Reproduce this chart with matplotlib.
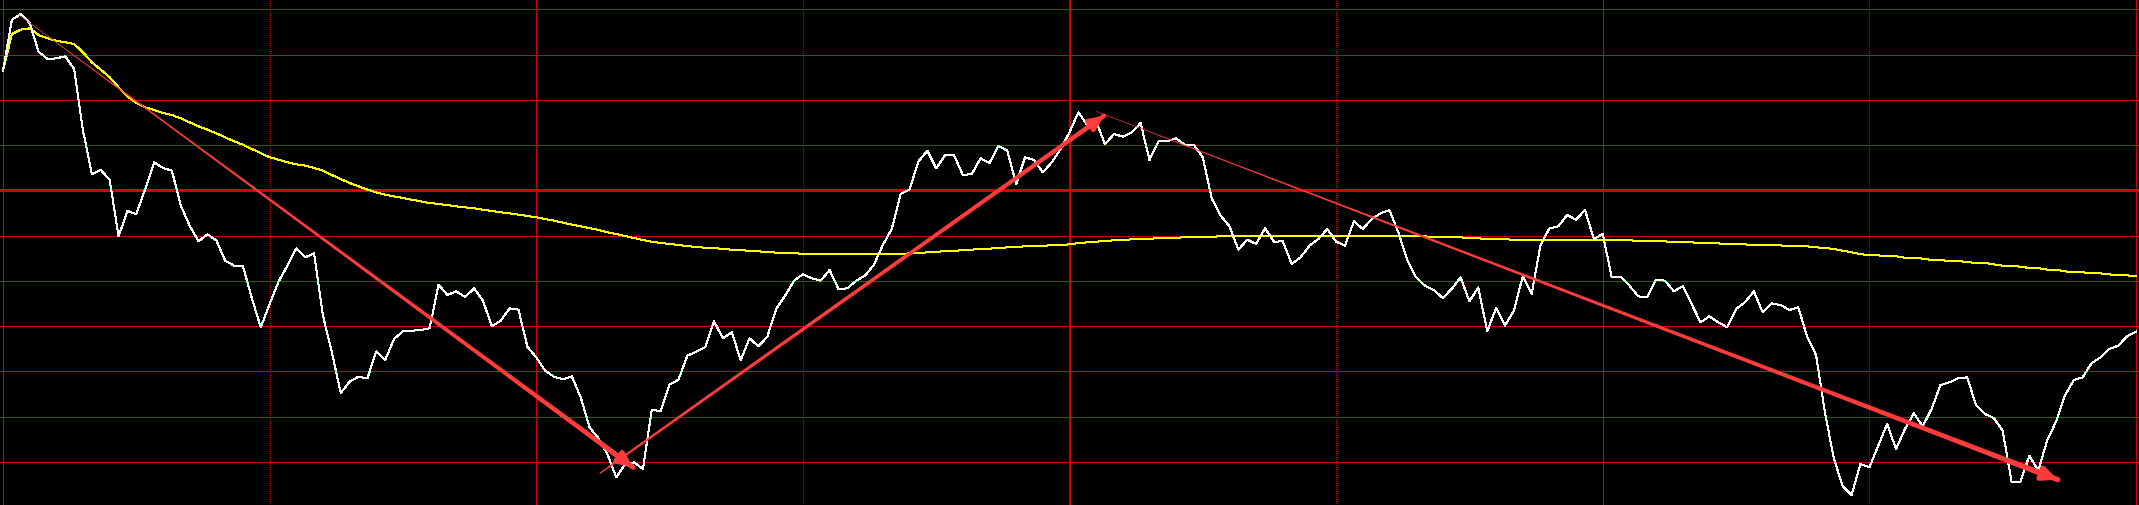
import numpy as np
import matplotlib
matplotlib.use('Agg')
import matplotlib.pyplot as plt
from matplotlib.collections import LineCollection

# intraday minute data, % change vs previous close
price = [3.59, 5.12, 5.29, 5.02, 4.16, 3.94, 3.96, 4.02, 3.64, 1.79,
         0.49, 0.61, 0.31, -1.38, -0.62, -0.71, 0.04, 0.84, 0.67, 0.59,
         -0.46, -1.06, -1.53, -1.32, -1.50, -2.11, -2.26, -2.28, -3.24, -4.11,
         -3.41, -2.74, -2.26, -1.74, -2.01, -1.89, -3.76, -4.86, -6.08, -5.74,
         -5.59, -5.64, -4.83, -5.09, -4.46, -4.23, -4.21, -4.19, -4.14, -2.83,
         -3.14, -3.03, -3.20, -2.94, -3.31, -4.08, -3.91, -3.54, -3.58, -4.69,
         -5.01, -5.41, -5.59, -5.67, -5.58, -6.21, -7.11, -7.44, -7.91, -8.61,
         -8.21, -8.16, -8.36, -6.58, -6.63, -5.83, -5.68, -4.96, -4.84, -4.71,
         -3.93, -4.44, -4.26, -5.09, -4.44, -4.68, -4.39, -3.56, -3.16, -2.71,
         -2.52, -2.64, -2.71, -2.39, -2.96, -2.94, -2.71, -2.56, -2.23, -1.64,
         -1.16, -0.11, 0.02, 0.87, 1.19, 0.66, 1.06, 1.06, 0.46, 0.49,
         0.96, 0.82, 1.33, 1.19, 0.19, 0.99, 0.91, 0.54, 0.84, 1.24,
         1.74, 2.34, 1.96, 2.07, 1.38, 1.69, 1.61, 1.74, 2.02, 0.91,
         1.47, 1.47, 1.56, 1.36, 1.36, 0.99, -0.24, -0.76, -1.08, -1.78,
         -1.48, -1.61, -1.14, -1.54, -1.53, -2.21, -2.01, -1.66, -1.46, -1.16,
         -1.54, -1.66, -0.93, -1.16, -0.86, -0.69, -0.59, -1.26, -2.08, -2.61,
         -2.86, -2.99, -3.23, -2.96, -2.61, -3.33, -2.91, -4.23, -3.53, -4.06,
         -3.61, -2.58, -3.11, -1.64, -1.14, -1.08, -0.74, -0.88, -0.59, -1.46,
         -1.31, -2.59, -2.59, -2.86, -3.18, -3.21, -2.68, -2.71, -3.03, -2.88,
         -3.41, -3.96, -3.78, -3.96, -4.11, -3.56, -3.36, -3.03, -3.66, -3.39,
         -3.44, -3.59, -3.51, -4.39, -4.94, -6.66, -8.04, -8.88, -9.14, -8.21,
         -8.31, -7.66, -7.01, -7.76, -7.16, -6.69, -7.08, -6.56, -5.84, -5.76,
         -5.64, -5.61, -6.44, -6.71, -6.83, -7.21, -8.74, -8.74, -7.96, -8.41,
         -7.51, -6.94, -6.16, -5.69, -5.61, -5.19, -5.01, -4.76, -4.66, -4.38, -4.24]

avg_price = [3.59, 4.69, 4.82, 4.86, 4.66, 4.56, 4.49, 4.44, 4.39, 4.14,
             3.84, 3.62, 3.39, 3.09, 2.82, 2.62, 2.49, 2.41, 2.32, 2.26,
             2.16, 2.04, 1.92, 1.82, 1.71, 1.59, 1.47, 1.37, 1.24, 1.12,
             0.99, 0.92, 0.84, 0.78, 0.74, 0.67, 0.59, 0.46, 0.34, 0.22,
             0.12, 0.02, -0.06, -0.13, -0.18, -0.23, -0.28, -0.33, -0.38, -0.41,
             -0.44, -0.48, -0.51, -0.54, -0.58, -0.62, -0.66, -0.69, -0.73, -0.77,
             -0.81, -0.86, -0.91, -0.97, -1.03, -1.08, -1.13, -1.19, -1.26, -1.31,
             -1.37, -1.43, -1.49, -1.54, -1.58, -1.61, -1.64, -1.67, -1.70, -1.72,
             -1.73, -1.76, -1.78, -1.80, -1.81, -1.83, -1.85, -1.87, -1.89, -1.89,
             -1.90, -1.90, -1.90, -1.90, -1.91, -1.92, -1.92, -1.92, -1.92, -1.92,
             -1.92, -1.91, -1.89, -1.88, -1.86, -1.84, -1.83, -1.81, -1.80, -1.78,
             -1.76, -1.75, -1.73, -1.71, -1.70, -1.68, -1.67, -1.66, -1.65, -1.64,
             -1.62, -1.58, -1.56, -1.54, -1.52, -1.50, -1.49, -1.47, -1.46, -1.45,
             -1.44, -1.43, -1.42, -1.41, -1.40, -1.40, -1.39, -1.38, -1.38, -1.38,
             -1.38, -1.38, -1.38, -1.38, -1.38, -1.38, -1.38, -1.38, -1.38, -1.38,
             -1.38, -1.38, -1.38, -1.38, -1.38, -1.38, -1.38, -1.38, -1.38, -1.38,
             -1.38, -1.41, -1.41, -1.41, -1.41, -1.44, -1.44, -1.46, -1.46, -1.46,
             -1.49, -1.49, -1.49, -1.49, -1.49, -1.49, -1.49, -1.49, -1.49, -1.49,
             -1.49, -1.49, -1.49, -1.49, -1.53, -1.53, -1.53, -1.53, -1.56, -1.56,
             -1.56, -1.59, -1.59, -1.59, -1.62, -1.62, -1.62, -1.65, -1.65, -1.65,
             -1.65, -1.68, -1.68, -1.68, -1.71, -1.73, -1.76, -1.81, -1.86, -1.91,
             -1.95, -1.95, -1.98, -1.98, -2.02, -2.02, -2.05, -2.09, -2.09, -2.12,
             -2.12, -2.15, -2.18, -2.18, -2.22, -2.26, -2.26, -2.29, -2.33, -2.33,
             -2.38, -2.38, -2.43, -2.46, -2.46, -2.49, -2.49, -2.52, -2.55, -2.55, -2.58]

minutes = np.arange(len(price))

# trend arrows: (start minute, start %, end minute, end %)
arrow_down_1 = (1.6, 5.30, 70.9, -8.31)
arrow_up = (67.2, -8.48, 123.9, 2.24)
arrow_down_2 = (123.0, 2.37, 231.2, -8.68)

grid_step = 1.3575
grid_red = '#d40000'
arrow_red = '#ff3b3b'


def taper_arrow(ax, a, w0, w1, power=1.0):
    x0, y0, x1, y1 = a
    n = 60
    xs = np.linspace(x0, x1, n + 1)
    ys = np.linspace(y0, y1, n + 1)
    segs = [[(xs[i], ys[i]), (xs[i + 1], ys[i + 1])] for i in range(n)]
    t = np.linspace(0, 1, n) ** power
    lc = LineCollection(segs, linewidths=w0 + (w1 - w0) * t,
                        colors=arrow_red, capstyle='round', zorder=5)
    ax.add_collection(lc)
    ax.annotate('', xy=(x1, y1), xytext=(xs[-4], ys[-4]),
                arrowprops=dict(arrowstyle='-|>,head_length=0.7,head_width=0.32',
                                mutation_scale=12, color=arrow_red, lw=w1,
                                shrinkA=0, shrinkB=0), zorder=6)


fig = plt.figure(figsize=(21.39, 5.06), dpi=100, facecolor='black')
ax = fig.add_axes([0, 0, 1, 1])
ax.set_facecolor('black')
ax.set_xlim(-0.34, 240.34)
ax.set_ylim(-9.44, 5.74)
ax.axis('off')

for k in range(-6, 5):
    ax.axhline(k * grid_step, color=grid_red, lw=2.16 if k == 0 else 0.72,
               antialiased=False, zorder=1)
for m in range(0, 241, 30):
    if m % 60:
        ax.axvline(m, color=grid_red, lw=0.72, ls=(0, (1, 2)),
                   antialiased=False, zorder=1)
    else:
        ax.axvline(m, color=grid_red, lw=1.44 if m == 120 else 0.72,
                   antialiased=False, zorder=1)

ax.plot(minutes, avg_price, color='#ffff00', lw=0.72, antialiased=False, zorder=3)
ax.plot(minutes, price, color='white', lw=0.72, antialiased=False, zorder=4)

taper_arrow(ax, arrow_down_1, 0.4, 3.6)
taper_arrow(ax, arrow_up, 1.0, 3.2, power=0.5)
taper_arrow(ax, arrow_down_2, 0.4, 3.8)

fig.savefig('out.png', dpi=100, facecolor='black')
